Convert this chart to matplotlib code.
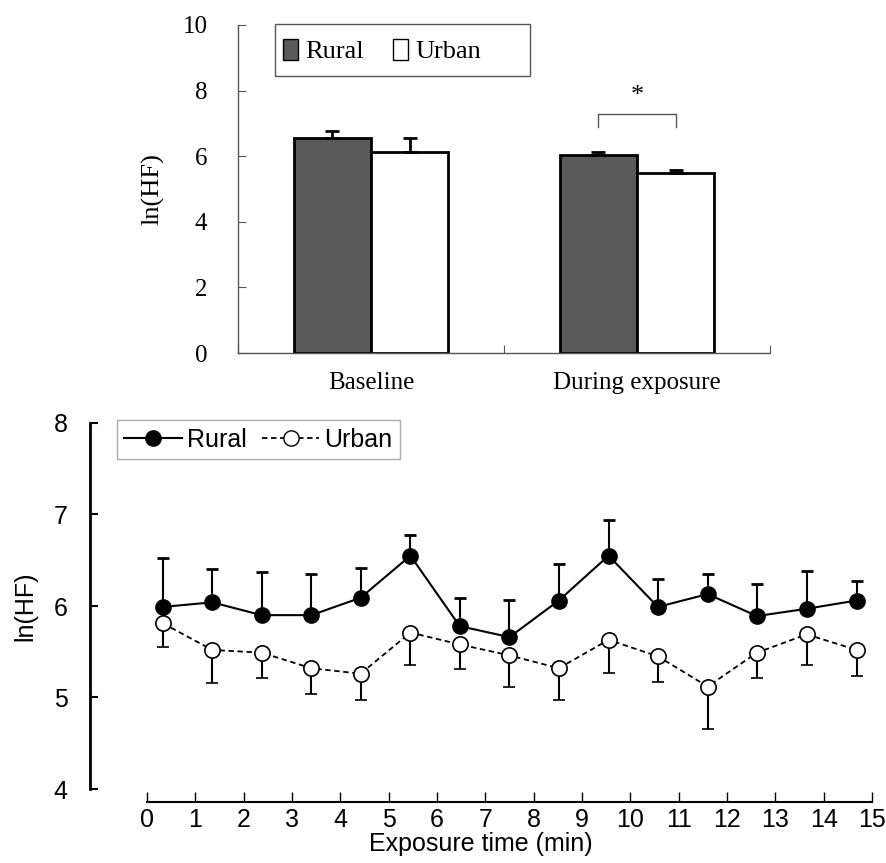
import numpy as np
import matplotlib
matplotlib.use("Agg")
import matplotlib.pyplot as plt
from matplotlib.patches import Patch, Rectangle
from matplotlib.lines import Line2D

# ---------------------------------------------------------------------
# Data
# ---------------------------------------------------------------------
# top panel: mean ln(HF) per period
periods = ["Baseline", "During exposure"]
bar_rural = [6.54, 6.05]
bar_rural_err = [0.22, 0.08]
bar_urban = [6.12, 5.49]
bar_urban_err = [0.42, 0.10]

# bottom panel: minute-by-minute ln(HF)
minutes = [0.33, 1.35, 2.37, 3.40, 4.42, 5.45, 6.47, 7.50, 8.52, 9.55,
           10.57, 11.60, 12.62, 13.65, 14.68]
rural = [5.99, 6.04, 5.90, 5.90, 6.09, 6.55, 5.78, 5.66, 6.06, 6.55,
         5.99, 6.13, 5.89, 5.97, 6.06]
rural_err = [0.53, 0.36, 0.47, 0.45, 0.33, 0.23, 0.31, 0.41, 0.40, 0.39,
             0.30, 0.22, 0.35, 0.41, 0.21]
urban = [5.81, 5.52, 5.49, 5.32, 5.26, 5.71, 5.58, 5.46, 5.32, 5.63,
         5.45, 5.12, 5.49, 5.69, 5.52]
urban_err = [0.26, 0.36, 0.28, 0.28, 0.29, 0.36, 0.27, 0.35, 0.35, 0.36,
             0.28, 0.46, 0.28, 0.34, 0.28]

W, H = 887, 863
fig = plt.figure(figsize=(W / 100, H / 100), dpi=100)

# ---------------------------------------------------------------------
# Top panel: bar chart (serif fonts)
# ---------------------------------------------------------------------
serif = "Liberation Serif"
ax1 = fig.add_axes([238 / W, 1 - 353 / H, (770 - 238) / W, (353 - 25) / H])
pos = np.array([0.5, 1.5])
bw = 0.29
zeros = np.zeros(len(pos))
ax1.bar(pos - bw / 2, bar_rural, bw, color="#595959", edgecolor="black", linewidth=2,
        yerr=[zeros, bar_rural_err], error_kw=dict(ecolor="black", elinewidth=2, capsize=5, capthick=2))
ax1.bar(pos + bw / 2, bar_urban, bw, color="white", edgecolor="black", linewidth=2,
        yerr=[zeros, bar_urban_err], error_kw=dict(ecolor="black", elinewidth=2, capsize=5, capthick=2))

ax1.set_xlim(0, 2)
ax1.set_ylim(0, 10)
ax1.set_yticks([0, 2, 4, 6, 8, 10])
ax1.set_xticks([0, 1, 2])
ax1.set_xticklabels([])
ax1.set_xticks(pos, minor=True)
ax1.set_xticklabels(periods, minor=True, fontsize=18, fontfamily=serif)
ax1.tick_params(axis="x", which="minor", length=0, pad=14)
ax1.tick_params(axis="x", which="major", direction="in", length=6, color="#555555")
ax1.tick_params(axis="y", direction="in", length=6, color="#555555", pad=22)
for lab in ax1.get_yticklabels():
    lab.set_fontfamily(serif)
    lab.set_fontsize(18)
for s in ["top", "right"]:
    ax1.spines[s].set_visible(False)
for s in ["left", "bottom"]:
    ax1.spines[s].set_color("#555555")
    ax1.spines[s].set_linewidth(1)
ax1.set_ylabel("ln(HF)", fontsize=19, fontfamily=serif, labelpad=13)

# significance bracket
ax1.plot([1.5 - bw / 2, 1.5 - bw / 2, 1.5 + bw / 2, 1.5 + bw / 2], [6.9, 7.28, 7.28, 6.9],
         color="#555555", lw=1)
ax1.text(1.5, 7.5, "*", ha="center", va="bottom", fontsize=19, fontfamily=serif)

# legend box drawn separately so its width matches the original
fig.add_artist(Rectangle((275 / W, 1 - 76 / H), (530 - 275) / W, (76 - 24) / H,
                         transform=fig.transFigure, facecolor="white", edgecolor="#555555", lw=1))
fig.legend(handles=[Patch(facecolor="#595959", edgecolor="black", label="Rural"),
                    Patch(facecolor="white", edgecolor="black", label="Urban")],
           loc="center left", bbox_to_anchor=(283 / W, 1 - 51 / H), ncol=2,
           prop=dict(family=serif, size=19), frameon=False,
           handlelength=0.55, handleheight=0.85, handletextpad=0.3,
           columnspacing=1.1, borderpad=0, borderaxespad=0)

# ---------------------------------------------------------------------
# Bottom panel: time course (sans fonts)
# ---------------------------------------------------------------------
sans = "Liberation Sans"
x0 = -(147 - 90) / ((872 - 147) / 15)
ax2 = fig.add_axes([90 / W, 1 - 789 / H, (872 - 90) / W, (789 - 423) / H])
n = len(minutes)
ax2.errorbar(minutes, rural, yerr=[np.zeros(n), rural_err], fmt="-o", color="black",
             mfc="black", mec="black", ms=11, lw=1.5, elinewidth=1.5, capsize=4, capthick=2, zorder=3)
ax2.errorbar(minutes, urban, yerr=[urban_err, np.zeros(n)], fmt="o", color="black",
             mfc="white", mec="black", ms=11, mew=1.2, elinewidth=1.5, capsize=4, capthick=2, zorder=2)
ax2.plot(minutes, urban, ls=(0, (3, 2)), color="black", lw=1.3, zorder=1)

ax2.set_xlim(x0, 15)
ax2.set_ylim(4, 8)
ax2.set_xticks(range(0, 16))
ax2.set_yticks([4, 5, 6, 7, 8])
for s in ["top", "right"]:
    ax2.spines[s].set_visible(False)
ax2.spines["left"].set_bounds(4, 8)
ax2.spines["left"].set_linewidth(2)
ax2.spines["bottom"].set_bounds(0, 15)
ax2.spines["bottom"].set_linewidth(1.5)
ax2.spines["bottom"].set_position(("outward", 9))
ax2.tick_params(axis="y", direction="in", length=6, width=1.5, pad=16, labelsize=18)
ax2.tick_params(axis="x", direction="in", length=7, width=1, pad=5, labelsize=18)
for lab in ax2.get_xticklabels() + ax2.get_yticklabels():
    lab.set_fontfamily(sans)
ax2.set_xlabel("Exposure time (min)", fontsize=18, fontfamily=sans, labelpad=0)
ax2.set_ylabel("ln(HF)", fontsize=18, fontfamily=sans, labelpad=12)

leg2 = fig.legend(handles=[Line2D([], [], color="black", lw=1.5, marker="o", ms=11, mfc="black", label="Rural"),
                           Line2D([], [], color="black", lw=1.3, ls=(0, (3, 2)), marker="o", ms=11,
                                  mfc="white", label="Urban")],
                  loc="upper left", bbox_to_anchor=(117 / W, 1 - 420 / H), ncol=2,
                  prop=dict(family=sans, size=18), frameon=True, fancybox=False,
                  handlelength=2.3, handletextpad=0.2, columnspacing=0.6,
                  borderpad=0.3, borderaxespad=0)
leg2.get_frame().set_edgecolor("#999999")
leg2.get_frame().set_linewidth(1)

fig.savefig("out.png", dpi=100)
